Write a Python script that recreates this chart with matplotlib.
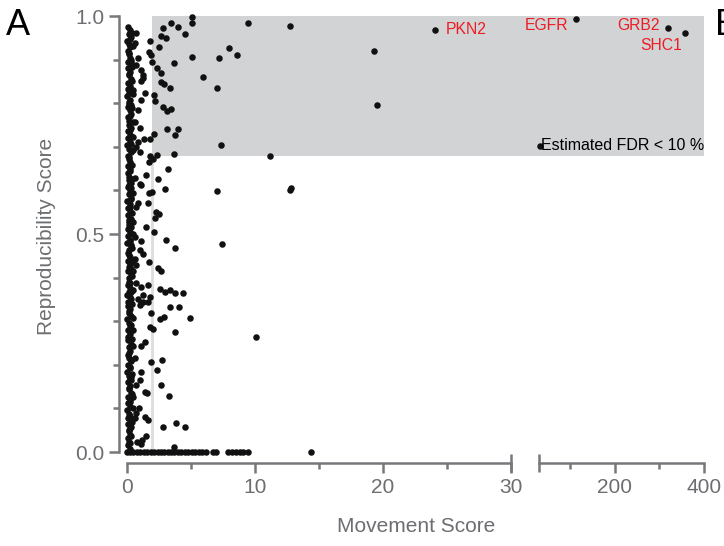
import matplotlib.pyplot as plt
from matplotlib.patches import Rectangle

plt.rcParams['font.family'] = ['Liberation Sans', 'DejaVu Sans']

GRAY = '#6d6e71'
SPINE = '#77787b'
BOX = '#d1d3d4'
LINE = '#dcddde'
RED = '#ed1c24'
DOT = '#111111'

# genes piled up at movement score ~0
col_y = [
    0.975, 0.968, 0.959, 0.952, 0.943, 0.936, 0.928, 0.919, 0.912, 0.904,
    0.895, 0.888, 0.880, 0.871, 0.864, 0.855, 0.847, 0.840, 0.832, 0.823,
    0.816, 0.808, 0.799, 0.792, 0.784, 0.775, 0.768, 0.760, 0.751, 0.744,
    0.736, 0.727, 0.720, 0.712, 0.703, 0.696, 0.688, 0.679, 0.672, 0.664,
    0.655, 0.648, 0.640, 0.631, 0.624, 0.616, 0.607, 0.600, 0.592, 0.583,
    0.576, 0.568, 0.559, 0.552, 0.544, 0.535, 0.528, 0.520, 0.511, 0.504,
    0.496, 0.487, 0.480, 0.472, 0.463, 0.456, 0.448, 0.439, 0.432, 0.424,
    0.415, 0.408, 0.400, 0.391, 0.384, 0.376, 0.367, 0.360, 0.352, 0.343,
    0.336, 0.328, 0.319, 0.312, 0.304, 0.295, 0.288, 0.280, 0.271, 0.264,
    0.256, 0.247, 0.240, 0.232, 0.223, 0.216, 0.208, 0.199, 0.192, 0.184,
    0.175, 0.168, 0.160, 0.151, 0.144, 0.136, 0.127, 0.120, 0.112, 0.103,
    0.096, 0.088, 0.079, 0.072, 0.064, 0.055, 0.048, 0.040, 0.031, 0.024,
    0.016, 0.008,
]
col_x = [
    0.05, 0.22, 0.12, 0.30, 0.02, 0.18, 0.26, 0.08, 0.15, 0.24,
    0.10, 0.28, 0.04, 0.20, 0.14, 0.32, 0.06, 0.25, 0.11, 0.19,
    0.03, 0.27, 0.16, 0.09, 0.23, 0.31, 0.07, 0.17, 0.13, 0.29,
    0.05, 0.21, 0.11, 0.26, 0.02, 0.18, 0.30, 0.09, 0.14, 0.24,
    0.08, 0.27, 0.04, 0.19, 0.12, 0.33, 0.06, 0.22, 0.15, 0.28,
    0.03, 0.25, 0.10, 0.20, 0.07, 0.31, 0.13, 0.18, 0.05, 0.26,
    0.09, 0.23, 0.02, 0.29, 0.16, 0.11, 0.27, 0.06, 0.21, 0.14,
    0.04, 0.30, 0.12, 0.19, 0.08, 0.25, 0.15, 0.03, 0.28, 0.10,
    0.06, 0.22, 0.13, 0.32, 0.02, 0.17, 0.26, 0.09, 0.20, 0.11,
    0.05, 0.29, 0.14, 0.23, 0.07, 0.18, 0.31, 0.10, 0.24, 0.03,
    0.12, 0.27, 0.06, 0.20, 0.15, 0.30, 0.04, 0.22, 0.09, 0.26,
    0.02, 0.18, 0.11, 0.28, 0.07, 0.24, 0.13, 0.21, 0.05, 0.16,
    0.10, 0.25,
]
col2_y = [
    0.962, 0.947, 0.931, 0.915, 0.899, 0.884, 0.868, 0.851, 0.835, 0.820,
    0.803, 0.788, 0.771, 0.756, 0.739, 0.724, 0.707, 0.692, 0.676, 0.659,
    0.644, 0.627, 0.612, 0.595, 0.580, 0.563, 0.548, 0.531, 0.516, 0.499,
    0.484, 0.467, 0.452, 0.435, 0.420, 0.403, 0.388, 0.371, 0.356, 0.339,
    0.324, 0.307, 0.292, 0.275, 0.260, 0.243, 0.228, 0.211, 0.196, 0.179,
    0.164, 0.147, 0.132, 0.115, 0.100, 0.083, 0.068, 0.051, 0.036, 0.020,
]
col2_x = [
    0.38, 0.21, 0.45, 0.17, 0.33, 0.41, 0.19, 0.36, 0.27, 0.48,
    0.16, 0.39, 0.24, 0.43, 0.20, 0.35, 0.29, 0.46, 0.18, 0.40,
    0.25, 0.37, 0.15, 0.44, 0.31, 0.22, 0.42, 0.19, 0.34, 0.47,
    0.23, 0.38, 0.17, 0.41, 0.28, 0.36, 0.20, 0.45, 0.26, 0.39,
    0.16, 0.43, 0.32, 0.21, 0.37, 0.48, 0.18, 0.35, 0.24, 0.42,
    0.30, 0.19, 0.40, 0.27, 0.44, 0.22, 0.36, 0.17, 0.33, 0.25,
]

# genes with zero reproducibility
zero_x = [0.0, 0.25, 0.5, 0.8, 1.05, 1.3, 1.6, 1.85, 2.1, 2.4, 2.65, 2.9,
          3.2, 3.45, 3.7, 4.0, 4.25, 4.5, 4.8, 5.05, 5.3, 5.6, 5.85, 6.15,
          6.7, 6.95, 7.9, 8.2, 8.5, 8.8, 9.1, 9.45, 14.35]

# remaining genes (movement score, reproducibility score)
mov = [
    5.08, 5.08, 3.46, 3.98, 4.5, 2.63, 3.07, 2.81, 1.77, 2.48,
    1.7, 1.85, 1.98, 3.67, 5.08, 5.94, 2.37, 2.68, 1.25, 1.07,
    2.68, 2.89, 3.33, 1.43, 1.12, 2.11, 2.16, 2.81, 3.15, 3.41,
    0.86, 0.65, 0.99, 3.15, 3.98, 3.77, 2.11, 1.33, 1.77, 0.86,
    0.73, 0.99, 1.82, 2.37, 3.67, 0.73, 0.6, 0.34, 0.86, 0.73,
    1.07, 1.25, 0.47, 0.34, 0.47, 9.43, 7.94, 8.62, 7.19, 7.06,
    7.34, 12.73, 19.3, 19.56, 11.2, 2.05,
    1.7, 3.2, 1.5, 2.42, 1.07, 2.94, 1.7, 1.95, 0.86, 1.64,
    2.29, 2.48, 2.21, 1.51, 2.11, 0.65, 1.07, 3.07, 3.77, 0.99,
    1.25, 0.6, 1.72, 2.42, 2.68, 0.73, 0.68, 1.12, 1.64, 2.6,
    2.94, 3.33, 3.72, 4.38, 1.25, 0.86, 1.77, 1.64, 1.12, 0.6,
    0.34, 0.73, 0.47, 0.34, 0.47, 0.34, 1.02,
    7.0, 12.7, 12.8, 7.45, 10.1,
    3.33, 4.1, 4.9, 2.55, 2.9, 1.9, 3.72, 1.77, 2.03, 1.38,
    1.09, 1.85, 2.76, 2.34, 1.12, 0.99, 0.73, 2.63, 1.38, 1.59,
    3.28, 0.91, 0.73, 0.6, 1.43, 1.64, 2.81, 3.85, 4.5, 1.5,
    1.17, 0.8, 1.12, 3.67, 0.99, 1.25, 0.47, 0.6, 0.34, 0.47,
    0.34,
    32.0,
]
rep = [
    0.997, 0.983, 0.983, 0.974, 0.959, 0.953, 0.949, 0.972, 0.943, 0.928,
    0.918, 0.911, 0.895, 0.892, 0.907, 0.859, 0.880, 0.869, 0.857, 0.852,
    0.849, 0.844, 0.836, 0.823, 0.807, 0.819, 0.806, 0.791, 0.781, 0.786,
    0.784, 0.758, 0.742, 0.740, 0.740, 0.727, 0.729, 0.717, 0.719, 0.712,
    0.700, 0.689, 0.679, 0.681, 0.683, 0.960, 0.937, 0.895, 0.903, 0.888,
    0.876, 0.865, 0.830, 0.796, 0.723, 0.985, 0.927, 0.911, 0.903, 0.836,
    0.704, 0.978, 0.920, 0.795, 0.680, 0.671,
    0.664, 0.649, 0.635, 0.626, 0.612, 0.603, 0.593, 0.597, 0.570, 0.572,
    0.550, 0.545, 0.537, 0.517, 0.505, 0.494, 0.484, 0.486, 0.467, 0.463,
    0.453, 0.443, 0.435, 0.421, 0.416, 0.429, 0.387, 0.379, 0.383, 0.375,
    0.368, 0.372, 0.364, 0.365, 0.360, 0.352, 0.356, 0.345, 0.341, 0.628,
    0.605, 0.563, 0.528, 0.475, 0.414, 0.368, 0.615,
    0.599, 0.600, 0.606, 0.477, 0.264,
    0.333, 0.333, 0.307, 0.306, 0.309, 0.318, 0.275, 0.286, 0.282, 0.253,
    0.243, 0.207, 0.211, 0.188, 0.184, 0.165, 0.154, 0.154, 0.138, 0.135,
    0.129, 0.100, 0.089, 0.078, 0.080, 0.073, 0.057, 0.066, 0.057, 0.037,
    0.028, 0.024, 0.018, 0.012, 0.337, 0.345, 0.280, 0.215, 0.173, 0.127,
    0.058,
    0.702,
]

hits = ['PKN2', 'EGFR', 'GRB2', 'SHC1']
hit_x = [24.1, 113.0, 319.0, 357.0]
hit_y = [0.968, 0.993, 0.972, 0.961]

fdr_mov = 1.95
fdr_rep = 0.68

all_x = col_x + col2_x + zero_x + mov + hit_x
all_y = col_y + col2_y + [0.0] * len(zero_x) + rep + hit_y

fig = plt.figure(figsize=(7.24, 5.46), dpi=100)
bottom, height = 83 / 546, 453 / 546
ylim = (-11 / 436, 442 / 436)
ax1 = fig.add_axes([119 / 724, bottom, 420 / 724, height])
ax2 = fig.add_axes([539 / 724, bottom, 165 / 724, height])
ax1.set_xlim(-8 / 12.8, 412 / 12.8)
ax2.set_xlim(30, 400)

for ax, lo, hi in [(ax1, -1, 30), (ax2, 30, 1000)]:
    ax.set_ylim(*ylim)
    ax.set_facecolor('none')
    for s in ['top', 'right']:
        ax.spines[s].set_visible(False)
    ax.spines['bottom'].set_color(SPINE)
    ax.spines['bottom'].set_linewidth(1.8)
    ax.spines['left'].set_color(SPINE)
    ax.spines['left'].set_linewidth(1.8)
    ax.tick_params(which='major', length=7, width=1.8, color=SPINE,
                   labelcolor=GRAY, labelsize=15, pad=3.5)
    ax.tick_params(which='minor', length=4.5, width=1.8, color=SPINE)
    xs = [x for x in all_x if lo < x <= hi]
    ys = [y for x, y in zip(all_x, all_y) if lo < x <= hi]
    ax.scatter(xs, ys, s=22, color=DOT, linewidths=0, zorder=3, clip_on=False)
    # break caps at 30
    ax.plot([30], [ylim[0]], marker='|', ms=13.5, mew=1.8, color=SPINE,
            clip_on=False, zorder=4)

# FDR region
ax1.add_patch(Rectangle((fdr_mov, fdr_rep), 40, 1 - fdr_rep, fc=BOX, ec='none', zorder=0))
ax2.add_patch(Rectangle((30, fdr_rep), 370, 1 - fdr_rep, fc=BOX, ec='none', zorder=0))
ax1.plot([fdr_mov, fdr_mov], [0, fdr_rep], color=LINE, lw=2, zorder=1)

ax1.spines['left'].set_bounds(0, 1)
ax1.spines['bottom'].set_bounds(0, 30)
ax1.set_xticks([0, 10, 20, 30])
ax1.set_xticks([5, 15, 25], minor=True)
ax1.set_yticks([0, 0.5, 1.0], ['0.0', '0.5', '1.0'])
ax1.set_yticks([0.1, 0.2, 0.3, 0.4, 0.6, 0.7, 0.8, 0.9], minor=True)

ax2.spines['left'].set_visible(False)
ax2.spines['bottom'].set_bounds(30, 400)
ax2.set_xticks([200, 400])
ax2.set_xticks([100, 300], minor=True)
ax2.set_yticks([])

ax1.text(24.9, 0.968, 'PKN2', color=RED, fontsize=11.3, ha='left', va='center')
ax2.text(95, 0.979, 'EGFR', color=RED, fontsize=11.3, ha='right', va='center')
ax2.text(301, 0.979, 'GRB2', color=RED, fontsize=11.3, ha='right', va='center')
ax2.text(351, 0.933, 'SHC1', color=RED, fontsize=11.3, ha='right', va='center')
ax2.text(34.5, 0.702, 'Estimated FDR < 10 %', color='black', fontsize=11.5,
         ha='left', va='center')

fig.text(47 / 724, 1 - 236 / 546, 'Reproducibility Score', rotation=90,
         ha='center', va='center', fontsize=15, color=GRAY)
fig.text(416 / 724, 1 - 527 / 546, 'Movement Score', ha='center', va='center',
         fontsize=15, color=GRAY)

fig.text(6 / 724, 1 - 35 / 546, 'A', fontsize=26, va='baseline')
fig.text(715 / 724, 1 - 35 / 546, 'B', fontsize=26, va='baseline')

fig.savefig('out.png', dpi=100)
